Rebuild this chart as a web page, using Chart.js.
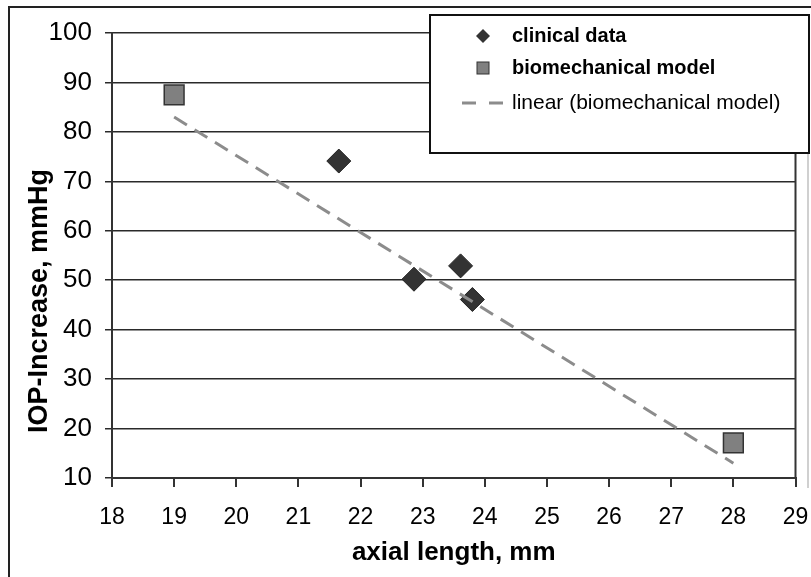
<!DOCTYPE html>
<html lang="en">
<head>
    <meta charset="UTF-8">
    <title>IOP increase vs axial length</title>
    <script src="https://cdn.jsdelivr.net/npm/chart.js"></script>
    <style>
        body {
            margin: 0;
            background-color: #ffffff;
        }
    </style>
</head>
<body>
    <canvas id="grafico" width="811" height="577"></canvas>

    <script>
        // Datos
        const clinicalX = [21.65, 22.86, 23.61, 23.80];
        const clinicalY = [74.1, 50.2, 52.9, 46.1];
        const modelX = [19, 28];
        const modelY = [87.5, 17.1];
        const trendX = [19, 28];
        const trendY = [83, 13];
        const xTicks = [18, 19, 20, 21, 22, 23, 24, 25, 26, 27, 28, 29];
        const yTicks = [10, 20, 30, 40, 50, 60, 70, 80, 90, 100];

        const legendLabels = ['clinical data', 'biomechanical model', 'linear (biomechanical model)'];

        function toPoints(xs, ys) {
            return xs.map((x, i) => ({ x: x, y: ys[i] }));
        }

        const tickFont = { family: '"Liberation Sans", Arial', size: 26 };

        // Marco, borde derecho, título Y y leyenda
        const extras = {
            id: 'extras',
            afterDraw(chart) {
                const ctx = chart.ctx;
                const a = chart.chartArea;
                ctx.save();

                // borde derecho del área
                ctx.strokeStyle = '#333';
                ctx.lineWidth = 2;
                ctx.beginPath();
                ctx.moveTo(a.right, a.top);
                ctx.lineTo(a.right, a.bottom);
                ctx.stroke();

                // marco exterior
                ctx.strokeStyle = '#222';
                ctx.beginPath();
                ctx.moveTo(9, 577);
                ctx.lineTo(9, 7);
                ctx.lineTo(811, 7);
                ctx.stroke();
                ctx.strokeStyle = '#d0d0d0';
                ctx.beginPath();
                ctx.moveTo(808, 153);
                ctx.lineTo(808, 488);
                ctx.stroke();

                // título del eje Y
                ctx.fillStyle = '#000';
                ctx.font = 'bold 27px "Liberation Sans", Arial';
                ctx.textAlign = 'center';
                ctx.textBaseline = 'middle';
                ctx.translate(40, 301);
                ctx.rotate(-Math.PI / 2);
                ctx.fillText('IOP-Increase, mmHg', 0, 0);
                ctx.restore();

                // leyenda
                ctx.save();
                ctx.fillStyle = '#fff';
                ctx.fillRect(430, 15, 379, 138);
                ctx.strokeStyle = '#111';
                ctx.lineWidth = 2;
                ctx.strokeRect(430, 15, 379, 138);

                // rombo
                ctx.fillStyle = '#333';
                ctx.beginPath();
                ctx.moveTo(476, 36);
                ctx.lineTo(483, 29);
                ctx.lineTo(490, 36);
                ctx.lineTo(483, 43);
                ctx.closePath();
                ctx.fill();

                // cuadrado
                ctx.fillStyle = '#808080';
                ctx.fillRect(477, 62, 12, 12);
                ctx.strokeStyle = '#333';
                ctx.lineWidth = 1;
                ctx.strokeRect(477, 62, 12, 12);

                // línea discontinua
                ctx.strokeStyle = '#8c8c8c';
                ctx.lineWidth = 3;
                ctx.setLineDash([14, 13]);
                ctx.beginPath();
                ctx.moveTo(462, 103);
                ctx.lineTo(505, 103);
                ctx.stroke();
                ctx.setLineDash([]);

                ctx.fillStyle = '#000';
                ctx.textAlign = 'left';
                ctx.textBaseline = 'middle';
                ctx.font = 'bold 20px "Liberation Sans", Arial';
                ctx.fillText(legendLabels[0], 512, 36);
                ctx.fillText(legendLabels[1], 512, 68);
                ctx.font = '21px "Liberation Sans", Arial';
                ctx.fillText(legendLabels[2], 512, 103);
                ctx.restore();
            }
        };

        new Chart(document.getElementById('grafico').getContext('2d'), {
            type: 'scatter',
            data: {
                datasets: [
                    {
                        label: legendLabels[2],
                        type: 'line',
                        data: toPoints(trendX, trendY),
                        borderColor: '#8c8c8c',
                        borderWidth: 3,
                        borderDash: [15, 9],
                        pointRadius: 0,
                        fill: false,
                        order: 0
                    },
                    {
                        label: legendLabels[0],
                        data: toPoints(clinicalX, clinicalY),
                        pointStyle: 'rectRot',
                        pointRadius: 12,
                        backgroundColor: '#333',
                        borderColor: '#222',
                        borderWidth: 1,
                        order: 1
                    },
                    {
                        label: legendLabels[1],
                        data: toPoints(modelX, modelY),
                        pointStyle: 'rect',
                        pointRadius: 14,
                        backgroundColor: '#808080',
                        borderColor: '#333',
                        borderWidth: 1.5,
                        order: 2
                    }
                ]
            },
            options: {
                responsive: false,
                animation: false,
                devicePixelRatio: 1,
                layout: { padding: { top: 33, right: 0, left: 0, bottom: 0 } },
                plugins: {
                    legend: { display: false },
                    tooltip: { enabled: false }
                },
                scales: {
                    x: {
                        type: 'linear',
                        min: 18,
                        max: 29,
                        afterBuildTicks: s => { s.ticks = xTicks.map(v => ({ value: v })); },
                        afterFit: s => { s.height = 99; s.paddingRight = 14; },
                        grid: { drawOnChartArea: false, drawTicks: true, tickLength: 9, color: '#333', lineWidth: 2 },
                        border: { color: '#333', width: 2 },
                        ticks: { color: '#000', font: { family: '"Liberation Sans", Arial', size: 23 }, padding: 17, maxRotation: 0, autoSkip: false },
                        title: {
                            display: true,
                            text: 'axial length, mm',
                            color: '#000',
                            font: { family: '"Liberation Sans", Arial', size: 26, weight: 'bold' },
                            padding: { top: 0, bottom: 9 }
                        }
                    },
                    y: {
                        type: 'linear',
                        min: 10,
                        max: 100,
                        afterBuildTicks: s => { s.ticks = yTicks.map(v => ({ value: v })); },
                        afterFit: s => { s.width = 112; },
                        grid: { color: '#2a2a2a', lineWidth: 1.5, tickLength: 7 },
                        border: { color: '#333', width: 2 },
                        ticks: { color: '#000', font: tickFont, padding: 13, autoSkip: false }
                    }
                }
            },
            plugins: [extras]
        });
    </script>
</body>
</html>
